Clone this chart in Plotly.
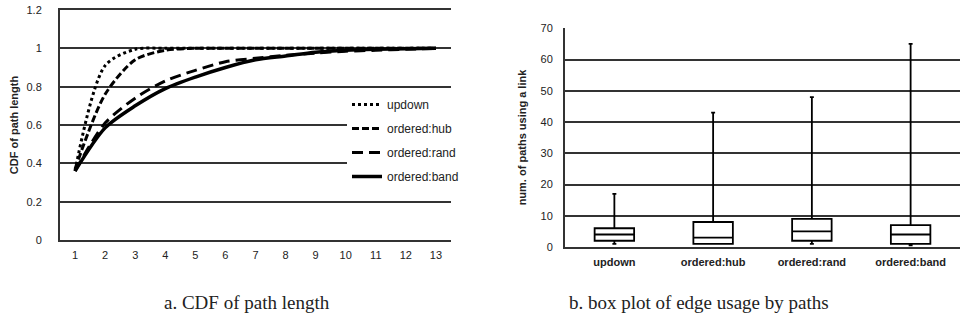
import plotly.graph_objects as go

# ---- Data: CDF of path length ----
path_len = list(range(1, 14))
updown = [0.36, 0.91, 0.995, 1.0, 1.0, 1.0, 1.0, 1.0, 1.0, 1.0, 1.0, 1.0, 1.0]
ordered_hub = [0.37, 0.76, 0.94, 0.99, 1.0, 1.0, 1.0, 1.0, 1.0, 1.0, 1.0, 1.0, 1.0]
ordered_rand = [0.36, 0.61, 0.74, 0.83, 0.885, 0.93, 0.948, 0.963, 0.975, 0.985, 0.99, 0.995, 1.0]
ordered_band = [0.36, 0.585, 0.70, 0.79, 0.85, 0.90, 0.94, 0.96, 0.98, 0.99, 0.995, 0.998, 1.0]
cdf_ticks = [0, 0.2, 0.4, 0.6, 0.8, 1, 1.2]
cdf_tick_text = ["0", "0.2", "0.4", "0.6", "0.8", "1", "1.2"]

# ---- Data: box plot of edge usage ----
box_cats = ["updown", "ordered:hub", "ordered:rand", "ordered:band"]
box_min = [1, 1, 1, 0.5]
box_q1 = [2, 1, 2, 1]
box_med = [4, 3, 5, 4]
box_q3 = [6, 8, 9, 7]
box_max = [17, 43, 48, 65]
box_ticks = [0, 10, 20, 30, 40, 50, 60, 70]

fig = go.Figure()

line_styles = [
    ("updown", updown, "dot", 3),
    ("ordered:hub", ordered_hub, "7px,3px", 3),
    ("ordered:rand", ordered_rand, "11px,6px", 3),
    ("ordered:band", ordered_band, "solid", 3.5),
]
for i, (name, ys, dash, w) in enumerate(line_styles):
    fig.add_trace(go.Scatter(
        x=path_len, y=ys, name=name, mode="lines",
        line=dict(color="black", dash=dash, width=w, shape="spline", smoothing=0.8),
        xaxis="x", yaxis="y", legendgroup=f"g{i}",
    ))

for i, cat in enumerate(box_cats):
    fig.add_trace(go.Box(
        x=[cat], q1=[box_q1[i]], median=[box_med[i]], q3=[box_q3[i]],
        lowerfence=[box_min[i]], upperfence=[box_max[i]],
        xaxis="x2", yaxis="y2", showlegend=False,
        fillcolor="white", line=dict(color="black", width=1.8),
        width=0.4, whiskerwidth=0.1, boxpoints=False,
    ))

SANS = "Liberation Sans, Arial, sans-serif"
tickfont = dict(family=SANS, size=11, color="#222")
grid = dict(showgrid=True, gridcolor="#333", gridwidth=1.5)

fig.update_layout(
    width=961, height=324,
    margin=dict(l=0, r=0, t=0, b=0, autoexpand=False),
    paper_bgcolor="white", plot_bgcolor="white",
    showlegend=True,
    legend=dict(
        x=347 / 961, y=1 - 90 / 324, xanchor="left", yanchor="top",
        bgcolor="white", borderwidth=0,
        font=dict(family=SANS, size=12, color="#222"),
        tracegroupgap=5, itemwidth=30,
    ),
    xaxis=dict(
        domain=[60 / 961, 451 / 961], range=[0.5, 13.5],
        tickmode="array", tickvals=path_len, ticktext=[str(v) for v in path_len],
        showgrid=False, zeroline=False, showline=True, mirror=True,
        linecolor="#333", linewidth=2,
        tickfont=tickfont, ticks="", ticklabelstandoff=4, anchor="y", automargin=False,
    ),
    yaxis=dict(
        domain=[1 - 240 / 324, 1 - 10 / 324], range=[0, cdf_ticks[-1]],
        tickmode="array", tickvals=cdf_ticks, ticktext=cdf_tick_text,
        zeroline=False, showline=True, linecolor="#333", linewidth=2,
        tickfont=tickfont, ticks="", ticklabelstandoff=14, anchor="x", automargin=False,
        title=dict(text="<b>CDF of path length</b>", font=dict(family=SANS, size=11, color="#222"), standoff=6),
        **grid,
    ),
    xaxis2=dict(
        domain=[565 / 961, 960 / 961], range=[-0.5, 3.5],
        type="category", categoryorder="array", categoryarray=box_cats,
        tickvals=box_cats, ticktext=[f"<b>{c}</b>" for c in box_cats],
        showgrid=False, zeroline=False, showline=True, linecolor="#333", linewidth=2,
        tickfont=tickfont, ticks="", ticklabelstandoff=4, anchor="y2", automargin=False,
    ),
    yaxis2=dict(
        domain=[1 - 247 / 324, 1 - 28 / 324], range=[0, 70.1],
        tickmode="array", tickvals=box_ticks,
        zeroline=False, showline=True, linecolor="#333", linewidth=2,
        tickfont=tickfont, ticks="", ticklabelstandoff=8, anchor="x2", automargin=False,
        title=dict(text="<b>num. of paths using a link</b>", font=dict(family=SANS, size=11, color="#222"), standoff=12),
        **grid,
    ),
    annotations=[
        dict(text="a. CDF of path length", x=247 / 961, y=1 - 302 / 324, xref="paper", yref="paper",
             showarrow=False, xanchor="center", yanchor="middle",
             font=dict(family="Liberation Serif, Times New Roman, serif", size=19, color="#222")),
        dict(text="b. box plot of edge usage by paths", x=699 / 961, y=1 - 302 / 324, xref="paper", yref="paper",
             showarrow=False, xanchor="center", yanchor="middle",
             font=dict(family="Liberation Serif, Times New Roman, serif", size=19, color="#222")),
    ],
)

fig.write_html("out.html",
               config={"displayModeBar": False},
               post_script="document.body.style.margin='0';document.body.style.padding='0';")
